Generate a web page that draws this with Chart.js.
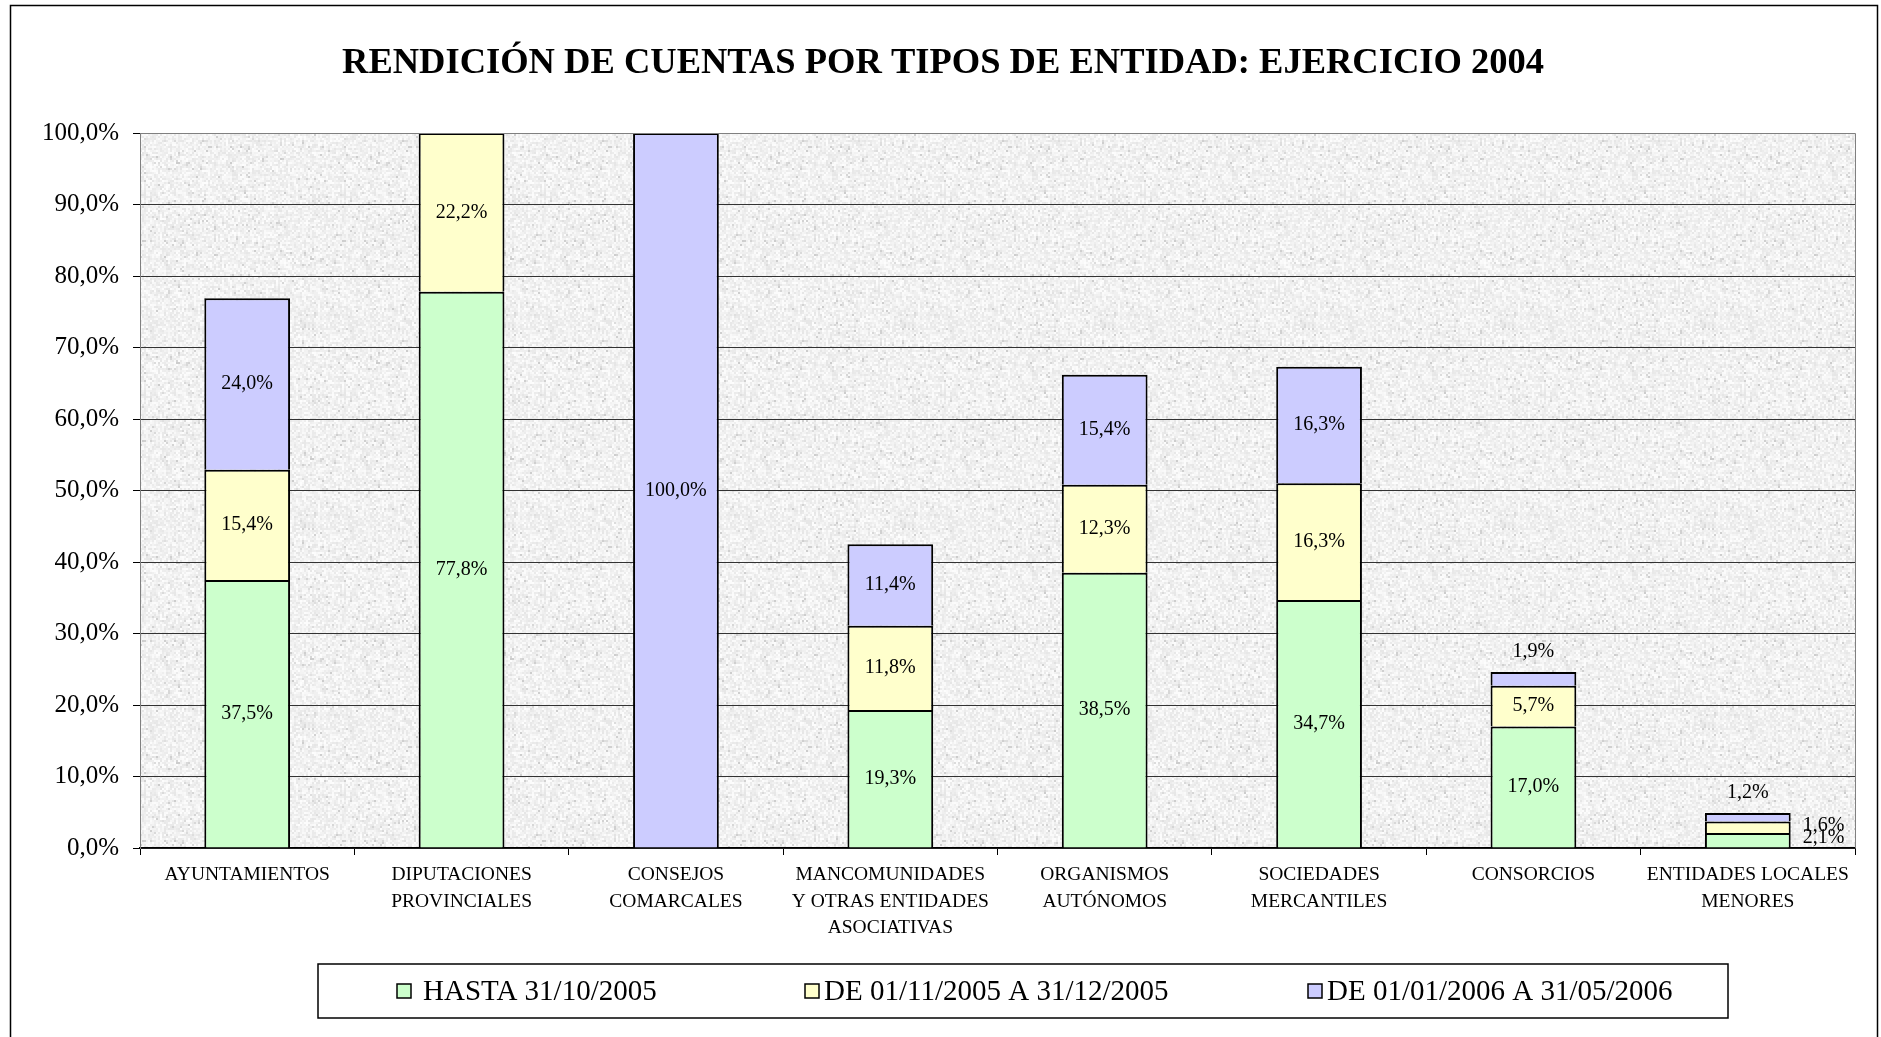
<!DOCTYPE html>
<html>
<head>
<meta charset="utf-8">
<script src="https://cdn.jsdelivr.net/npm/chart.js@4.4.1/dist/chart.umd.min.js"></script>
<style>
  html, body { margin: 0; padding: 0; background: #fff; }
  canvas { display: block; }
</style>
</head>
<body>
<canvas id="chart" width="1881" height="1037"></canvas>
<script>
// Categories and series (percent of entities)
const categories = [
    'AYUNTAMIENTOS',
    ['DIPUTACIONES', 'PROVINCIALES'],
    ['CONSEJOS', 'COMARCALES'],
    ['MANCOMUNIDADES', 'Y OTRAS ENTIDADES', 'ASOCIATIVAS'],
    ['ORGANISMOS', 'AUTÓNOMOS'],
    ['SOCIEDADES', 'MERCANTILES'],
    'CONSORCIOS',
    ['ENTIDADES LOCALES', 'MENORES']
];
const seriesNames = ['HASTA 31/10/2005', 'DE 01/11/2005 A 31/12/2005', 'DE 01/01/2006 A 31/05/2006'];
const hasta = [37.5, 77.8, 0, 19.3, 38.5, 34.7, 17.0, 2.1];
const diciembre = [15.4, 22.2, 0, 11.8, 12.3, 16.3, 5.7, 1.6];
const mayo = [24.0, 0, 100.0, 11.4, 15.4, 16.3, 1.9, 1.2];
const yTicks = [0, 10, 20, 30, 40, 50, 60, 70, 80, 90, 100];

const seriesColors = ['#CCFFCC', '#FFFFCC', '#CCCCFF'];
const FONT = "'Liberation Serif', 'Times New Roman', serif";

const fmt = v => v.toFixed(1).replace('.', ',') + '%';

// granite-like texture for the plot area (deterministic hash noise)
function makeTexture() {
    const c = document.createElement('canvas');
    c.width = 200; c.height = 200;
    const g = c.getContext('2d');
    let s = 98765;
    const rnd = () => { s = (s * 1103515245 + 12345) & 0x7fffffff; return s / 0x7fffffff; };
    for (let y = 0; y < 200; y += 2) {
        for (let x = 0; x < 200; x += 2) {
            let v = 242 + Math.floor((rnd() - 0.5) * 24);
            if (rnd() < 0.04) v -= 26;
            v = Math.min(255, v);
            g.fillStyle = 'rgb(' + v + ',' + v + ',' + v + ')';
            g.fillRect(x, y, 2 + (rnd() < 0.3 ? 1 : 0), 2 + (rnd() < 0.5 ? 2 : 0));
        }
    }
    return c;
}

const frame = {
    id: 'frame',
    beforeDraw(chart) {
        const ctx = chart.ctx;
        const a = chart.chartArea;
        ctx.save();
        ctx.fillStyle = '#fff';
        ctx.fillRect(0, 0, chart.width, chart.height);
        ctx.strokeStyle = '#000';
        ctx.lineWidth = 1.5;
        ctx.strokeRect(10.5, 5.5, 1867, 1040);
        ctx.fillStyle = ctx.createPattern(makeTexture(), 'repeat');
        ctx.fillRect(a.left, a.top, a.right - a.left, a.bottom - a.top);
        // title
        ctx.fillStyle = '#000';
        ctx.font = 'bold 36.5px ' + FONT;
        ctx.textAlign = 'center';
        ctx.textBaseline = 'middle';
        ctx.fillText('RENDICIÓN DE CUENTAS POR TIPOS DE ENTIDAD: EJERCICIO 2004', 943, 64);
        ctx.restore();
    },
    afterDraw(chart) {
        const ctx = chart.ctx;
        const a = chart.chartArea;
        ctx.save();
        // plot border (right & top)
        ctx.strokeStyle = '#808080';
        ctx.lineWidth = 1;
        ctx.beginPath();
        ctx.moveTo(a.left, a.top + 0.5);
        ctx.lineTo(a.right + 0.5, a.top + 0.5);
        ctx.lineTo(a.right + 0.5, a.bottom);
        ctx.stroke();

        // value labels
        ctx.fillStyle = '#000';
        ctx.font = '20px ' + FONT;
        ctx.textBaseline = 'middle';
        const n = chart.data.labels.length;
        for (let i = 0; i < n; i++) {
            let topIdx = -1;
            chart.data.datasets.forEach((ds, d) => { if (ds.data[i] > 0) topIdx = d; });
            chart.data.datasets.forEach((ds, d) => {
                const v = ds.data[i];
                if (!v) return;
                const bar = chart.getDatasetMeta(d).data[i];
                const h = Math.abs(bar.base - bar.y);
                const cy = (bar.base + bar.y) / 2;
                if (h >= 24) {
                    ctx.textAlign = 'center';
                    ctx.fillText(fmt(v), bar.x, cy);
                } else if (d === topIdx) {
                    ctx.textAlign = 'center';
                    ctx.fillText(fmt(v), bar.x, bar.y - 20);
                } else {
                    ctx.textAlign = 'left';
                    ctx.fillText(fmt(v), bar.x + bar.width / 2 + 12, cy - 2);
                }
            });
        }

        // legend
        ctx.strokeStyle = '#000';
        ctx.lineWidth = 1.5;
        ctx.strokeRect(318, 964, 1410, 54);
        const lx = [397, 805, 1308];
        ctx.font = '29px ' + FONT;
        ctx.textAlign = 'left';
        chart.data.datasets.forEach((ds, d) => {
            ctx.fillStyle = ds.backgroundColor;
            ctx.fillRect(lx[d], 984, 14, 14);
            ctx.lineWidth = 1.5;
            ctx.strokeRect(lx[d], 984, 14, 14);
            ctx.fillStyle = '#000';
            ctx.fillText(ds.label, lx[d] + (d === 0 ? 26 : 19), 992);
        });
        ctx.restore();
    }
};

new Chart(document.getElementById('chart').getContext('2d'), {
    type: 'bar',
    data: {
        labels: categories,
        datasets: [hasta, diciembre, mayo].map((vals, d) => ({
            label: seriesNames[d],
            data: vals,
            backgroundColor: seriesColors[d],
            borderColor: '#000',
            borderWidth: 2,
            borderSkipped: 'bottom',
            barPercentage: 0.4,
            categoryPercentage: 1
        }))
    },
    options: {
        responsive: false,
        animation: false,
        layout: { padding: { top: 133, right: 26, left: 0, bottom: 0 } },
        plugins: {
            legend: { display: false },
            title: { display: false },
            tooltip: { enabled: false }
        },
        scales: {
            x: {
                stacked: true,
                offset: true,
                grid: { offset: true, drawOnChartArea: false, drawTicks: true, tickLength: 7, color: '#000' },
                border: { color: '#000', width: 1.5 },
                ticks: { color: '#000', font: { family: FONT, size: 19.5, lineHeight: 1.35 }, maxRotation: 0, autoSkip: false, padding: 7 },
                afterFit(scale) { scale.height = 189; }
            },
            y: {
                stacked: true,
                min: 0,
                max: 100,
                afterBuildTicks(scale) { scale.ticks = yTicks.map(v => ({ value: v })); },
                grid: { color: '#333', lineWidth: 1, tickLength: 7, tickColor: '#000' },
                border: { color: '#808080', width: 1 },
                ticks: {
                    color: '#000',
                    font: { family: FONT, size: 25 },
                    padding: 14,
                    callback: v => fmt(v)
                },
                afterFit(scale) { scale.width = 140; }
            }
        }
    },
    plugins: [frame]
});
</script>
</body>
</html>
